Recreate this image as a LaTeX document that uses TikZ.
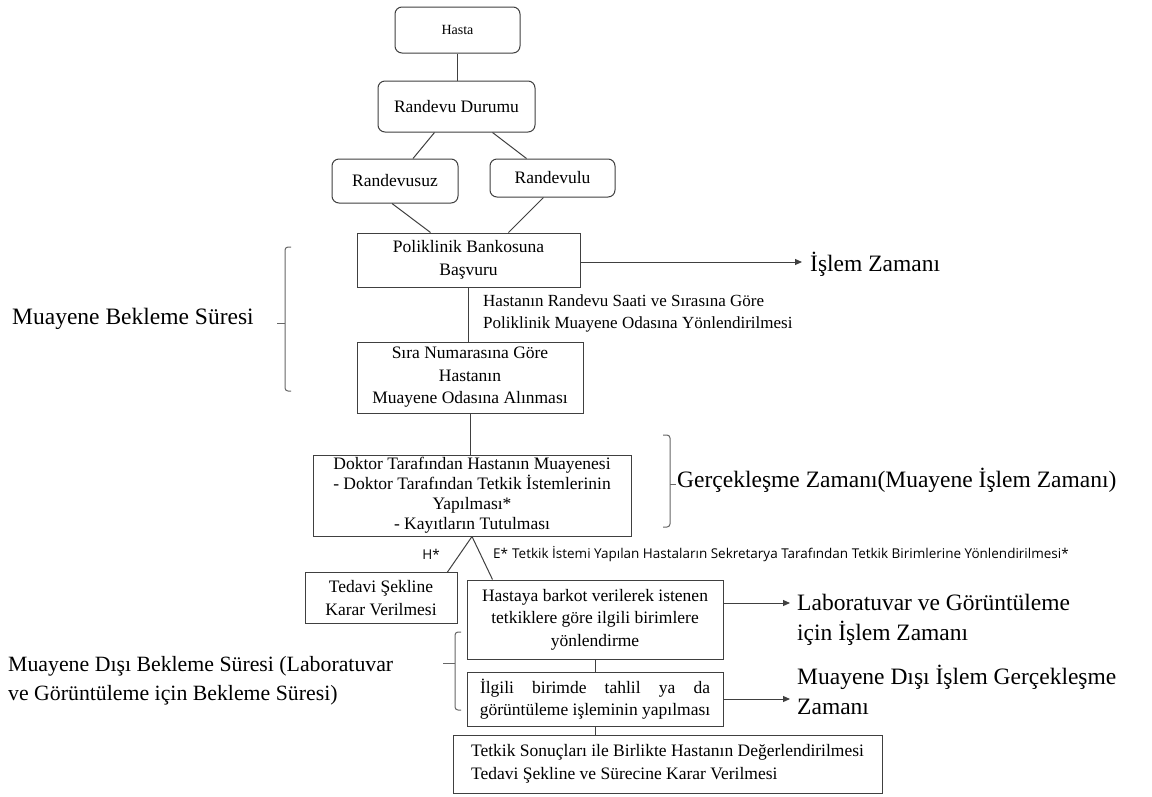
\documentclass[tikz,border=0pt]{standalone}
\usepackage{fontspec}
\setmainfont{Liberation Serif}
\newfontfamily\sansf{Open Sans}
\usetikzlibrary{arrows.meta}
\begin{document}
\begin{tikzpicture}[x=1pt,y=-1pt,
  box/.style={draw=black!75, line width=1pt, align=center, inner sep=0pt, font=\fontsize{17.5}{22.5}\selectfont},
  rbox/.style={box, rounded corners=7pt},
  conn/.style={draw=black!75, line width=1pt},
  arr/.style={conn, -{Triangle[length=7pt,width=6pt]}},
  big/.style={font=\fontsize{23.5}{30}\selectfont, inner sep=0pt, anchor=base west},
  brk/.style={draw=black!60, line width=1pt, rounded corners=3pt},
  small/.style={font=\sansf\fontsize{13.5}{16}\selectfont, inner sep=0pt}
]
\useasboundingbox (0,0) rectangle (1152,796);
\fill[white] (0,0) rectangle (1152,796);

% boxes
\node[rbox, minimum width=125pt, minimum height=46pt, font=\fontsize{14}{16}\selectfont] (hasta) at (457.5,30) {Hasta};
\node[rbox, minimum width=157pt, minimum height=51pt] (rdurum) at (456.5,106.5) {Randevu Durumu};
\node[rbox, minimum width=126pt, minimum height=44pt] (rsuz) at (395,181) {Randevusuz};
\node[rbox, minimum width=125pt, minimum height=38pt] (rlu) at (552.5,178) {Randevulu};
\node[box, minimum width=223pt, minimum height=54pt] (polik) at (468.5,260) {Poliklinik Bankosuna\\Başvuru};
\node[box, minimum width=226pt, minimum height=71pt] (sira) at (470,377.5) {Sıra Numarasına Göre\\Hastanın\\Muayene Odasına Alınması};
\node[box, minimum width=318pt, minimum height=81pt, font=\fontsize{17.5}{20}\selectfont] (doktor) at (472,495.5) {Doktor Tarafından Hastanın Muayenesi\\- Doktor Tarafından Tetkik İstemlerinin\\Yapılması*\\- Kayıtların Tutulması};
\node[box, minimum width=152pt, minimum height=51pt] (tedavi) at (381,598) {Tedavi Şekline\\Karar Verilmesi};
\node[box, minimum width=256pt, minimum height=79pt] (hastaya) at (595,619.5) {Hastaya barkot verilerek istenen\\tetkiklere göre ilgili birimlere\\yönlendirme};
\node[box, minimum width=256pt, minimum height=54pt] (ilgili) at (595,699) {\makebox[230pt][s]{İlgili birimde tahlil ya da}\\görüntüleme işleminin yapılması};
\node[box, minimum width=429pt, minimum height=58pt, align=left] (tetkik) at (667.5,764) {Tetkik Sonuçları ile Birlikte Hastanın Değerlendirilmesi\\Tedavi Şekline ve Sürecine Karar Verilmesi};

% connectors
\draw[conn] (hasta.south) -- (hasta.south |- rdurum.north);
\draw[conn] ([xshift=-22pt]rdurum.south) -- ([xshift=18pt]rsuz.north);
\draw[conn] ([xshift=36pt]rdurum.south) -- ([xshift=-26pt]rlu.north);
\draw[conn] ([xshift=-3pt]rsuz.south) -- ([xshift=-38pt]polik.north);
\draw[conn] ([xshift=-9pt]rlu.south) -- ([xshift=40pt]polik.north);
\draw[conn] (polik.south) -- (polik.south |- sira.north);
\draw[conn] (sira.south) -- (sira.south |- doktor.north);
\draw[conn] (doktor.south) -- ([xshift=-10pt]tedavi.north east);
\draw[conn] (doktor.south) -- ([xshift=26pt]hastaya.north west);
\draw[conn] (hastaya.south) -- (hastaya.south |- ilgili.north);
\draw[conn] (ilgili.south) -- (ilgili.south |- tetkik.north);

% side labels
\node[big] (mbs) at (12,324) {Muayene Bekleme Süresi};
\node[big] (islem) at (810,271) {İşlem Zamanı};
\node[big] (gerc) at (677,487) {Gerçekleşme Zamanı(Muayene İşlem Zamanı)};
\node[big] (lab1) at (797,610) {Laboratuvar ve Görüntüleme};
\node[big] (lab2) at (797,640) {için İşlem Zamanı};
\node[big] (mdi1) at (797,684) {Muayene Dışı İşlem Gerçekleşme};
\node[big] (mdi2) at (797,714) {Zamanı};
\node[big, font=\fontsize{21.8}{28}\selectfont] (mdb1) at (8,671) {Muayene Dışı Bekleme Süresi (Laboratuvar};
\node[big, font=\fontsize{21.8}{28}\selectfont] (mdb2) at (8,700) {ve Görüntüleme için Bekleme Süresi)};

% edge labels
\node[font=\fontsize{17}{22}\selectfont, align=left, anchor=west, inner sep=0pt] (yon) at (483,313.5) {Hastanın Randevu Saati ve Sırasına Göre\\Poliklinik Muayene Odasına Yönlendirilmesi};
\node[small] (hs) at (431,554) {H*};
\node[small, anchor=west] (es) at (493,553) {E*};
\node[small, anchor=west] (tlab) at (512,554) {Tetkik İstemi Yapılan Hastaların Sekretarya Tarafından Tetkik Birimlerine Yönlendirilmesi*};

% arrows
\coordinate (a1) at (802,262);
\coordinate (a2) at (790,603);
\coordinate (a3) at (790,699);
\draw[arr] (polik.east |- a1) -- (a1);
\draw[arr] (hastaya.east |- a2) -- (a2);
\draw[arr] (ilgili.east) -- (a3);

% brackets
\draw[brk] (291,247) -- (285,247) -- (285,391) -- (291,391);
\draw[brk] (285,323) -- (277,323);
\draw[brk] (663,435) -- (670,435) -- (670,527) -- (663,527);
\draw[brk] (670,484) -- (676,484);
\draw[brk] (461,632) -- (455,632) -- (455,710) -- (461,710);
\draw[brk] (455,663) -- (443,663);
\end{tikzpicture}
\end{document}
